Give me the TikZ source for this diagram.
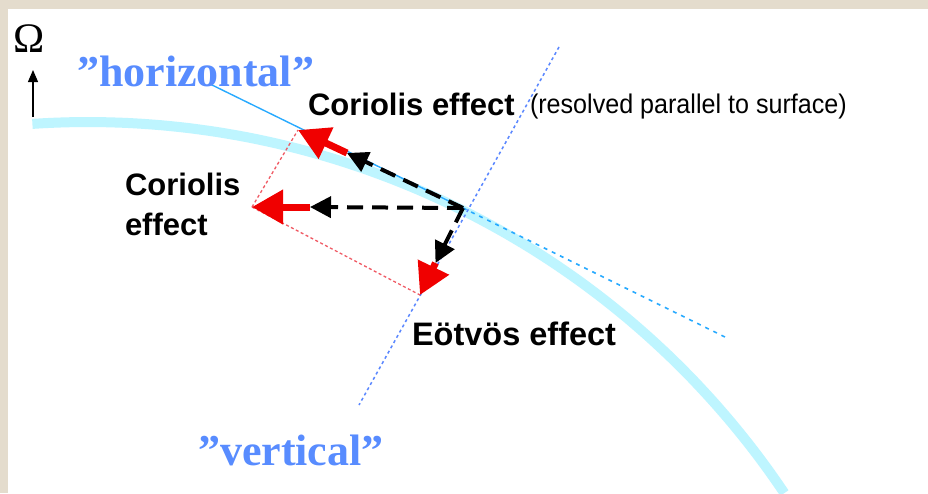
\documentclass[tikz,border=0pt]{standalone}
\usepackage{fontspec}
\setmainfont{Liberation Sans}
\newfontfamily\serifface{Liberation Serif}
\newfontfamily\narrowsans[FakeStretch=0.93]{Liberation Sans}
\usetikzlibrary{arrows.meta}
\definecolor{framebeige}{RGB}{228,220,205}
\definecolor{surfcyan}{RGB}{190,245,255}
\definecolor{horizblue}{RGB}{40,170,255}
\definecolor{vertblue}{RGB}{90,135,255}
\definecolor{labelblue}{RGB}{88,140,255}
\definecolor{forcered}{RGB}{240,0,0}
\definecolor{thinred}{RGB}{240,90,100}
\tikzset{
  lbl/.style={anchor=base west, inner sep=0pt, outer sep=0pt},
  bigsans/.style={font=\bfseries\fontsize{31}{31}\selectfont},
  bluelbl/.style={text=labelblue, font=\serifface\bfseries\fontsize{44}{44}\selectfont},
  surface/.style={draw=surfcyan, line width=10pt},
  blackcomp/.style={draw=black, line width=4pt, dash pattern=on 16pt off 9pt,
    -{Triangle[length=21pt,width=21pt]}},
  redcomp/.style={draw=forcered, line width=7pt,
    -{Triangle[length=31pt,width=33pt]}},
  reddot/.style={draw=thinred, line width=1.3pt, dash pattern=on 3pt off 2.5pt},
}
\begin{document}
\begin{tikzpicture}[x=1pt,y=-1pt]
\useasboundingbox (0,0) rectangle (928,493);
\fill[framebeige] (0,0) rectangle (928,493);
\fill[white] (8,9) rectangle (928,493);

% key points
\coordinate (P) at (463,208);
\coordinate (T) at (298,130);
\coordinate (L) at (252,207);
\coordinate (B) at (420,295);
\coordinate (Tk) at (347,153);
\coordinate (Lk) at (310,207);
\coordinate (Bk) at (435.5,263);
\coordinate (H1) at (210,84);
\coordinate (H2) at (727,338);
\coordinate (V1) at (559,47);
\coordinate (V2) at (359,405);
\coordinate (oa) at (33,117);
\coordinate (ob) at (33,70);

% Earth's surface
\draw[surface] plot[domain=93.8:33.9, samples=90] ({88+839*cos(\x)},{961-839*sin(\x)});

% "horizontal" tangent and "vertical" line
\draw[horizblue, line width=1.4pt] (H1) -- (P);
\draw[horizblue, line width=1.6pt, dash pattern=on 4pt off 5pt] (P) -- (H2);
\draw[vertblue, line width=1.5pt, dash pattern=on 3pt off 3pt] (V1) -- (V2);

% parallelogram sides
\draw[reddot] (L) -- (T);
\draw[reddot] (L) -- (B);

% force components
\draw[blackcomp] (P) -- (Tk);
\draw[blackcomp] (P) -- (Lk);
\draw[blackcomp] (P) -- (Bk);
\draw[redcomp] (Tk) -- (T);
\draw[redcomp] (Lk) -- (L);
\draw[redcomp] (Bk) -- (B);

% rotation axis
\node[lbl, font=\serifface\fontsize{42}{42}\selectfont] (omega) at (13,52) {Ω};
\draw[line width=1.2pt, -{Triangle[length=12pt,width=10pt]}] (oa) -- (ob);

% labels
\node[lbl, bluelbl] (hlab) at (77,86) {”horizontal”};
\node[lbl, bluelbl] (vlab) at (198,465) {”vertical”};
\node[lbl, bigsans] (cor1) at (308,115) {Coriolis effect};
\node[lbl, font=\narrowsans\fontsize{27}{27}\selectfont] (res) at (530,113) {(resolved parallel to surface)};
\node[lbl, bigsans] (cor2a) at (125,195) {Coriolis};
\node[lbl, bigsans] (cor2b) at (125,235) {effect};
\node[lbl, font=\bfseries\fontsize{32.5}{32.5}\selectfont] (eot) at (412,345) {Eötvös effect};
\end{tikzpicture}
\end{document}
